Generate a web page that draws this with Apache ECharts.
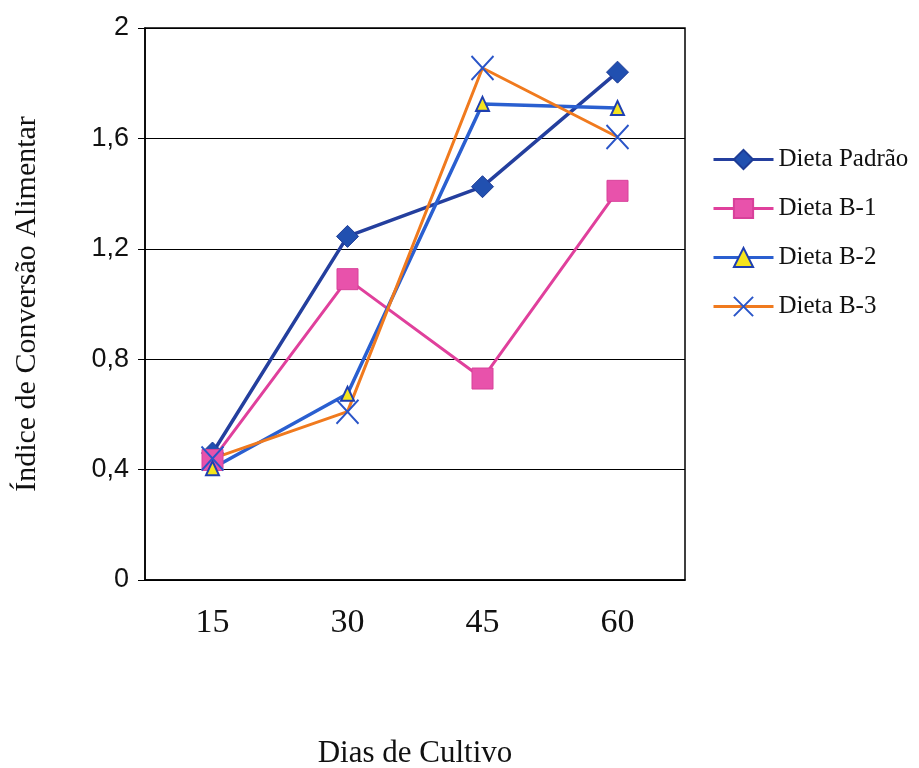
<!DOCTYPE html>
<html>
<head>
<meta charset="utf-8">
<script src="https://cdn.jsdelivr.net/npm/echarts@6/dist/echarts.min.js"></script>
<style>html,body{margin:0;padding:0;background:#fff;}#c{width:919px;height:768px;}</style>
</head>
<body>
<div id="c"></div>
<script>
var categories = ['15', '30', '45', '60'];
var dietaPadrao = [0.46, 1.245, 1.425, 1.84];
var dietaB1 = [0.435, 1.09, 0.73, 1.41];
var dietaB2 = [0.405, 0.675, 1.725, 1.71];
var dietaB3 = [0.44, 0.61, 1.855, 1.605];
var yTicks = [0, 0.4, 0.8, 1.2, 1.6, 2];

var serif = '"Liberation Serif", "DejaVu Serif", serif';
var sans = '"Liberation Sans", Arial, sans-serif';
var xPath = 'path://M0,0L10,10M10,0L0,10';

var chart = echarts.init(document.getElementById('c'), null, {renderer: 'canvas'});
chart.setOption({
  animation: false,
  backgroundColor: '#ffffff',
  grid: {left: 145, right: 234, top: 28, bottom: 188, show: true, borderColor: '#000', borderWidth: 1.5,
    backgroundColor: 'transparent', containLabel: false, outerBoundsMode: 'none'},
  legend: {
    orient: 'vertical', left: 707, top: 142,
    itemWidth: 60, itemHeight: 24, itemGap: 24,
    lineStyle: {width: 3},
    textStyle: {fontFamily: serif, fontSize: 25, color: '#111'},
    data: ['Dieta Padrão', 'Dieta B-1', 'Dieta B-2', 'Dieta B-3']
  },
  xAxis: {
    type: 'category', data: categories, boundaryGap: true,
    name: 'Dias de Cultivo', nameLocation: 'middle', nameGap: 158,
    nameTextStyle: {fontFamily: serif, fontSize: 31, color: '#111'},
    axisLine: {lineStyle: {color: '#000', width: 1.5}},
    axisTick: {show: false},
    axisLabel: {fontFamily: serif, fontSize: 34, color: '#111', margin: 26}
  },
  yAxis: {
    type: 'value', min: 0, max: 2, interval: 0.4,
    name: 'Índice de Conversão Alimentar', nameLocation: 'middle', nameGap: 103,
    nameTextStyle: {fontFamily: serif, fontSize: 30, color: '#111'},
    axisLine: {show: true, lineStyle: {color: '#000', width: 1.5}},
    axisTick: {show: true, length: 7, lineStyle: {color: '#000', width: 1}},
    splitLine: {lineStyle: {color: '#000', width: 1}},
    axisLabel: {fontFamily: sans, fontSize: 27, color: '#111', margin: 16,
      formatter: function (v) { return String(+v.toFixed(1)).replace('.', ','); }}
  },
  series: [
    {name: 'Dieta Padrão', type: 'line', data: dietaPadrao, symbol: 'diamond', symbolSize: 22,
      lineStyle: {color: '#243f9e', width: 3.5}, itemStyle: {color: '#2150b0', borderColor: '#1d3c96', borderWidth: 1}},
    {name: 'Dieta B-1', type: 'line', data: dietaB1, symbol: 'rect', symbolSize: 21,
      lineStyle: {color: '#e0409c', width: 3}, itemStyle: {color: '#e852ab', borderColor: '#d8409a', borderWidth: 1}},
    {name: 'Dieta B-2', type: 'line', data: dietaB2, symbol: 'triangle', symbolSize: [13, 14],
      lineStyle: {color: '#2a5fd0', width: 3.5}, itemStyle: {color: '#f5e41e', borderColor: '#1e3fb0', borderWidth: 2}},
    {name: 'Dieta B-3', type: 'line', data: dietaB3, symbol: xPath, symbolSize: [22, 24],
      lineStyle: {color: '#f07a1e', width: 3}, itemStyle: {color: 'rgba(0,0,0,0)', borderColor: '#2a55c8', borderWidth: 2}}
  ]
});
</script>
</body>
</html>
